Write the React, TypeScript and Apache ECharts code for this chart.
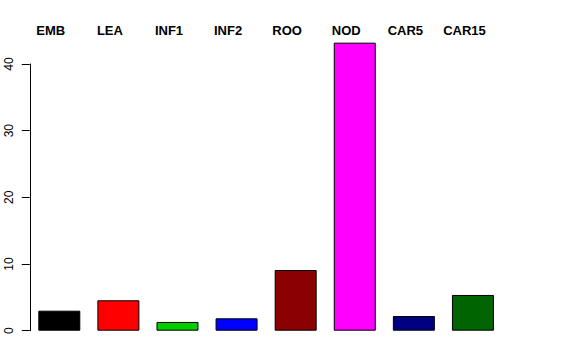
import React, { useEffect, useRef } from "react";
import * as echarts from "echarts";

const categories = ["EMB", "LEA", "INF1", "INF2", "ROO", "NOD", "CAR5", "CAR15"];
const values = [3.0, 4.56, 1.31, 1.86, 9.1, 43.2, 2.2, 5.36];
const barColors = ["#000000", "#FF0000", "#00CD00", "#0000FF", "#8B0000", "#FF00FF", "#000080", "#006400"];

export default function App() {
  const ref = useRef<HTMLDivElement>(null);
  useEffect(() => {
    if (!ref.current) return;
    const chart = echarts.init(ref.current, null, { renderer: "svg" });
    chart.setOption({
      animation: false,
      backgroundColor: "#ffffff",
      grid: { left: 29.75, right: 73.5, top: 64, bottom: 29.3, containLabel: false },
      xAxis: {
        type: "category",
        data: categories,
        position: "top",
        axisLine: { show: false },
        axisTick: { show: false },
        axisLabel: {
          margin: 27.5,
          fontFamily: "Liberation Sans, Arial, sans-serif",
          fontWeight: "bold",
          fontSize: 13,
          color: "#000000",
          padding: [0, 17, 0, 0],
          interval: 0,
        },
      },
      yAxis: {
        type: "value",
        min: 0,
        max: 40,
        interval: 10,
        splitLine: { show: false },
        axisLine: { show: true, lineStyle: { color: "#000000", width: 1 } },
        axisTick: { show: true, length: 8, lineStyle: { color: "#000000" } },
        axisLabel: {
          rotate: 90,
          margin: 15,
          fontFamily: "Liberation Sans, Arial, sans-serif",
          fontSize: 12,
          color: "#000000",
        },
      },
      series: [
        {
          type: "bar",
          clip: false,
          barWidth: 42,
          data: values.map((v, i) => ({
            value: v,
            itemStyle: { color: barColors[i], borderColor: "#000000", borderWidth: 1 },
          })),
        },
      ],
    });
    return () => chart.dispose();
  }, []);
  return <div ref={ref} style={{ width: 576, height: 360, position: "absolute", left: 0, top: 0 }} />;
}
